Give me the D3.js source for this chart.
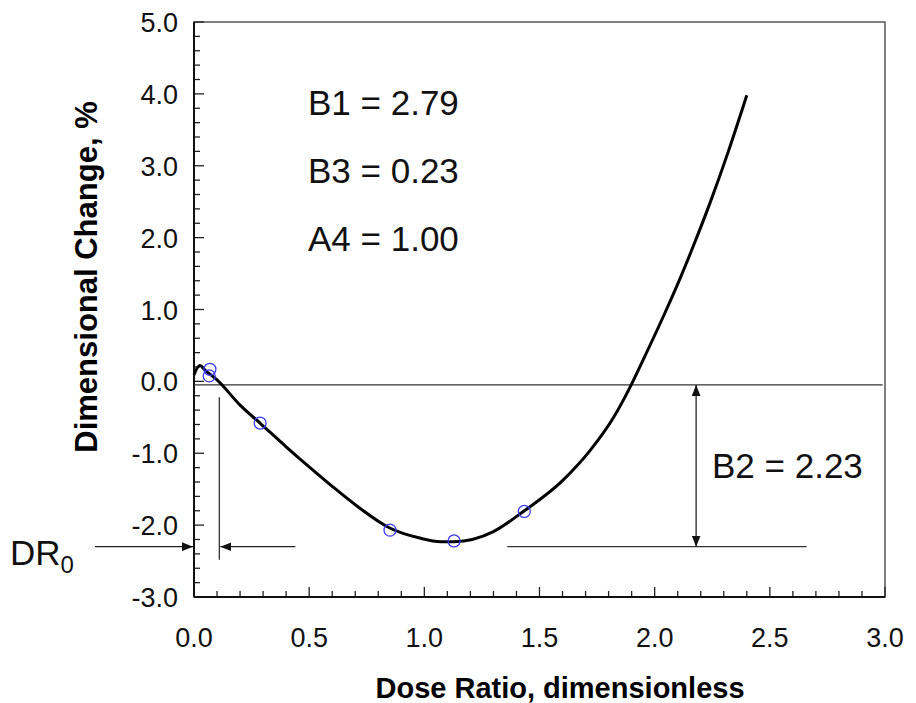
<!DOCTYPE html>
<html>
<head>
<meta charset="utf-8">
<script src="https://cdn.jsdelivr.net/npm/d3@7"></script>
<style>
  body { margin: 0; background: #fff; }
  svg { display: block; font-family: Arial, "Liberation Sans", sans-serif; }
</style>
</head>
<body>
<svg id="chart" width="916" height="703"></svg>
<script>
// fitted curve
var curveX = [0.00, 0.025, 0.05, 0.10, 0.20, 0.29, 0.40, 0.50, 0.60, 0.71, 0.85, 0.98, 1.07, 1.13, 1.30, 1.43, 1.60, 1.72, 1.82, 1.89, 1.95, 2.04, 2.11, 2.17, 2.24, 2.32, 2.40];
var curveY = [0.09, 0.22, 0.15, 0.02, -0.33, -0.59, -0.91, -1.19, -1.46, -1.74, -2.04, -2.18, -2.23, -2.23, -2.09, -1.81, -1.38, -0.96, -0.51, -0.10, 0.30, 0.92, 1.43, 1.90, 2.48, 3.20, 3.98];

// measured points
var pointX = [0.069, 0.066, 0.287, 0.851, 1.129, 1.434];
var pointY = [0.168, 0.076, -0.58, -2.07, -2.22, -1.81];

var xTicks = [0.0, 0.5, 1.0, 1.5, 2.0, 2.5, 3.0];
var yTicks = [-3.0, -2.0, -1.0, 0.0, 1.0, 2.0, 3.0, 4.0, 5.0];

var params = ["B1 = 2.79", "B3 = 0.23", "A4 = 1.00"];

var svg = d3.select("#chart");
var pLeft = 194, pRight = 885, pTop = 22, pBottom = 597;

var x = d3.scaleLinear().domain([0, 3]).range([pLeft, pRight]);
var y = d3.scaleLinear().domain([-3, 5]).range([pBottom, pTop]);

// frame (top / right lighter)
svg.append("rect")
	.attr("x", pLeft).attr("y", pTop)
	.attr("width", pRight - pLeft).attr("height", pBottom - pTop)
	.attr("fill", "none").attr("stroke", "#555").attr("stroke-width", 1.5);

// y axis, ticks inside
var yMinor = d3.range(-3, 5.001, 0.2);
svg.append("g").selectAll("line").data(yMinor).enter().append("line")
	.attr("x1", pLeft).attr("x2", function(d) { return Math.abs(d - Math.round(d)) < 1e-6 ? pLeft + 10 : pLeft + 6; })
	.attr("y1", function(d) { return y(d); }).attr("y2", function(d) { return y(d); })
	.attr("stroke", "#222").attr("stroke-width", 1.3);

var xMinor = d3.range(0, 3.001, 0.1);
svg.append("g").selectAll("line").data(xMinor).enter().append("line")
	.attr("y1", pBottom).attr("y2", function(d) { return Math.abs(d * 2 - Math.round(d * 2)) < 1e-6 ? pBottom - 10 : pBottom - 6; })
	.attr("x1", function(d) { return x(d); }).attr("x2", function(d) { return x(d); })
	.attr("stroke", "#222").attr("stroke-width", 1.3);

svg.append("line").attr("x1", pLeft).attr("x2", pLeft).attr("y1", pTop).attr("y2", pBottom)
	.attr("stroke", "#111").attr("stroke-width", 2);
svg.append("line").attr("x1", pLeft).attr("x2", pRight).attr("y1", pBottom).attr("y2", pBottom)
	.attr("stroke", "#111").attr("stroke-width", 2);

// tick labels
svg.append("g").selectAll("text").data(yTicks).enter().append("text")
	.attr("x", pLeft - 16).attr("y", function(d) { return y(d) + 10; })
	.attr("text-anchor", "end").attr("font-size", 27).attr("fill", "#111")
	.text(function(d) { return d3.format(".1f")(d).replace("−", "-"); });

svg.append("g").selectAll("text").data(xTicks).enter().append("text")
	.attr("x", function(d) { return x(d); }).attr("y", 647)
	.attr("text-anchor", "middle").attr("font-size", 27).attr("fill", "#111")
	.text(function(d) { return d3.format(".1f")(d); });

// axis titles
svg.append("text")
	.attr("transform", "translate(97,277) rotate(-90)")
	.attr("text-anchor", "middle").attr("font-size", 31).attr("font-weight", "bold")
	.text("Dimensional Change, %");
svg.append("text")
	.attr("x", 560).attr("y", 698)
	.attr("text-anchor", "middle").attr("font-size", 29).attr("font-weight", "bold")
	.text("Dose Ratio, dimensionless");

// reference lines
var zeroLine = -0.05, minLine = -2.30;
svg.append("line").attr("x1", x(0)).attr("x2", x(2.99)).attr("y1", y(zeroLine)).attr("y2", y(zeroLine))
	.attr("stroke", "#333").attr("stroke-width", 1.3);
svg.append("line").attr("x1", x(1.36)).attr("x2", x(2.66)).attr("y1", y(minLine)).attr("y2", y(minLine))
	.attr("stroke", "#333").attr("stroke-width", 1.3);

// arrowheads
var defs = svg.append("defs");
defs.append("marker").attr("id", "arr")
	.attr("viewBox", "0 0 10 8").attr("refX", 10).attr("refY", 4)
	.attr("markerWidth", 11).attr("markerHeight", 9).attr("markerUnits", "userSpaceOnUse")
	.attr("orient", "auto-start-reverse")
	.append("path").attr("d", "M0,0L10,4L0,8Z").attr("fill", "#111");

// B2 double arrow
svg.append("line").attr("x1", x(2.18)).attr("x2", x(2.18))
	.attr("y1", y(zeroLine)).attr("y2", y(minLine))
	.attr("stroke", "#222").attr("stroke-width", 1.3)
	.attr("marker-start", "url(#arr)").attr("marker-end", "url(#arr)");

// DR0 marks
var dr0 = 0.11;
svg.append("line").attr("x1", x(dr0)).attr("x2", x(dr0)).attr("y1", y(-0.22)).attr("y2", y(-2.48))
	.attr("stroke", "#333").attr("stroke-width", 1.3);
svg.append("line").attr("x1", x(-0.43)).attr("x2", x(0) - 1).attr("y1", y(minLine)).attr("y2", y(minLine))
	.attr("stroke", "#222").attr("stroke-width", 1.3).attr("marker-end", "url(#arr)");
svg.append("line").attr("x1", x(0.44)).attr("x2", x(dr0) + 1).attr("y1", y(minLine)).attr("y2", y(minLine))
	.attr("stroke", "#222").attr("stroke-width", 1.3).attr("marker-end", "url(#arr)");

var drText = svg.append("text").attr("x", 10).attr("y", 565).attr("font-size", 35).attr("fill", "#111");
drText.append("tspan").text("DR");
drText.append("tspan").attr("font-size", 24).attr("dy", 8).text("0");

// curve
var line = d3.line()
	.x(function(d, i) { return x(curveX[i]); })
	.y(function(d, i) { return y(curveY[i]); })
	.curve(d3.curveMonotoneX);
svg.append("path").datum(curveX).attr("d", line)
	.attr("fill", "none").attr("stroke", "#000").attr("stroke-width", 3)
	.attr("stroke-linejoin", "round");

// points
svg.append("g").selectAll("circle").data(pointX).enter().append("circle")
	.attr("cx", function(d) { return x(d); })
	.attr("cy", function(d, i) { return y(pointY[i]); })
	.attr("r", 6).attr("fill", "none").attr("stroke", "#3b3bf5").attr("stroke-width", 1.3);

// parameter text
svg.append("g").selectAll("text").data(params).enter().append("text")
	.attr("x", 308).attr("y", function(d, i) { return 115 + i * 68; })
	.attr("font-size", 35).attr("fill", "#111")
	.text(function(d) { return d; });
svg.append("text").attr("x", 712).attr("y", 478).attr("font-size", 35).attr("fill", "#111").text("B2 = 2.23");
</script>
</body>
</html>
